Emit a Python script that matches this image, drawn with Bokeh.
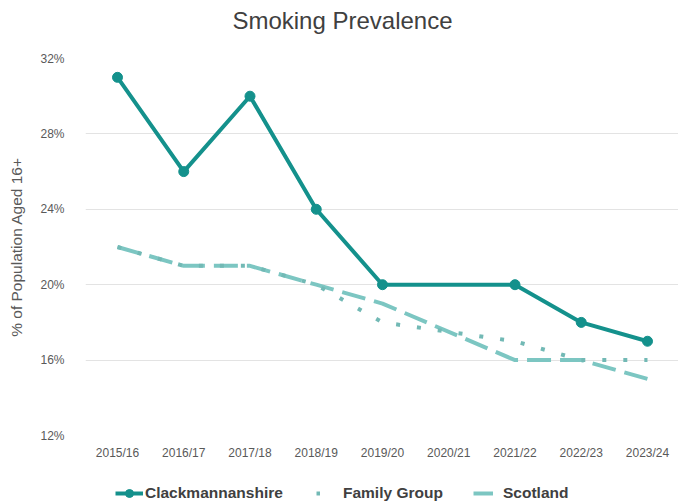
from bokeh.plotting import figure
from bokeh.layouts import column
from bokeh.core.properties import value
from bokeh.models import (Range1d, FixedTicker, PrintfTickFormatter, Legend, LegendItem)
from bokeh.embed import file_html
from bokeh.resources import INLINE

title_text = "Smoking Prevalence"
categories = ["2015/16", "2016/17", "2017/18", "2018/19", "2019/20",
              "2020/21", "2021/22", "2022/23", "2023/24"]
clackmannanshire = [31, 26, 30, 24, 20, None, 20, 18, 17]
family_group = [22, 21, 21, 20, 18, None, 17, 16, 16]
scotland = [22, 21, 21, 20, 19, None, 16, 16, 15]
y_ticks = [12, 16, 20, 24, 28, 32]


def series(vals):
    xs = [i for i, v in enumerate(vals) if v is not None]
    ys = [v for v in vals if v is not None]
    return xs, ys


FONT = "Liberation Sans"
TXT = "#595959"
C_CL = "#14918C"
C_FG = "#72B9B5"
C_SC = "#7CC6C2"


def strip(h):
    f = figure(width=678, height=h, output_backend="svg", toolbar_location=None,
               x_range=Range1d(0, 593), y_range=Range1d(0, h),
               x_axis_type=None, y_axis_type=None, min_border=0)
    f.outline_line_color = None
    f.grid.grid_line_color = None
    f.border_fill_color = "white"
    f.background_fill_color = "white"
    return f


# header strip with the title
hf = strip(40)
hf.text(x=[257], y=[20], text=[title_text], text_font=value(FONT),
        text_font_size="24px", text_color="#404040", text_align="center",
        text_baseline="middle")

# main chart
p = figure(width=678, height=430, output_backend="svg", toolbar_location=None,
           x_range=Range1d(-0.483, 8.468), y_range=Range1d(12, 32),
           min_border_left=85, min_border_right=0, min_border_top=18,
           min_border_bottom=35)
p.outline_line_color = None
p.background_fill_color = "white"
p.border_fill_color = "white"

p.xaxis.ticker = FixedTicker(ticks=list(range(len(categories))))
p.xaxis.major_label_overrides = {i: c for i, c in enumerate(categories)}
p.yaxis.ticker = FixedTicker(ticks=y_ticks)
p.yaxis.formatter = PrintfTickFormatter(format="%d%%")
for ax in (p.xaxis[0], p.yaxis[0]):
    ax.axis_line_color = None
    ax.major_tick_line_color = None
    ax.minor_tick_line_color = None
    ax.major_label_text_font = FONT
    ax.major_label_text_font_size = "12px"
    ax.major_label_text_color = TXT
p.yaxis.major_label_standoff = 15
p.xaxis.major_label_standoff = 4
p.yaxis.axis_label = "% of Population Aged 16+"
p.yaxis.axis_label_text_font = FONT
p.yaxis.axis_label_text_font_size = "15.5px"
p.yaxis.axis_label_text_font_style = "normal"
p.yaxis.axis_label_text_color = TXT
p.yaxis.axis_label_standoff = 12
p.xgrid.grid_line_color = None
p.ygrid.grid_line_color = "#E3E3E3"
p.ygrid.grid_line_width = 1

sx, sy = series(scotland)
p.line(sx, sy, line_color=C_SC, line_width=4, line_dash="24 9")
fx, fy = series(family_group)
p.line(fx, fy, line_color=C_FG, line_width=4, line_dash="4 17")
cx, cy = series(clackmannanshire)
p.line(cx, cy, line_color=C_CL, line_width=4)
p.scatter(cx, cy, marker="circle", size=10, fill_color=C_CL, line_color=C_CL)

# legend strip (separate figure so the legend is not clipped)
lf = strip(34)
off = [-100, -99]
l_cl = lf.line(off, off, line_color=C_CL, line_width=4)
l_cm = lf.scatter(off, off, marker="circle", size=10, fill_color=C_CL, line_color=C_CL)
l_fg = lf.line(off, off, line_color=C_FG, line_width=4, line_dash="4 17")
l_sc = lf.line(off, off, line_color=C_SC, line_width=4)


def add_legend(label, renderers, x, gw, standoff):
    lg = Legend(items=[LegendItem(label=label, renderers=renderers)],
                location=(x, 1), orientation="horizontal")
    lg.label_text_font = FONT
    lg.label_text_font_size = "15.5px"
    lg.label_text_font_style = "bold"
    lg.label_text_color = "#404040"
    lg.border_line_color = None
    lg.background_fill_alpha = 0
    lg.glyph_width = gw
    lg.glyph_height = 20
    lg.label_standoff = standoff
    lg.padding = 0
    lg.margin = 0
    lf.add_layout(lg, "center")


add_legend("Clackmannanshire", [l_cl, l_cm], 30, 28, 2)
add_legend("Family Group", [l_fg], 231, 4, 23)
add_legend("Scotland", [l_sc], 388, 20, 10)

layout = column(hf, p, lf, spacing=0)
open("out.html", "w").write(file_html(layout, INLINE))
